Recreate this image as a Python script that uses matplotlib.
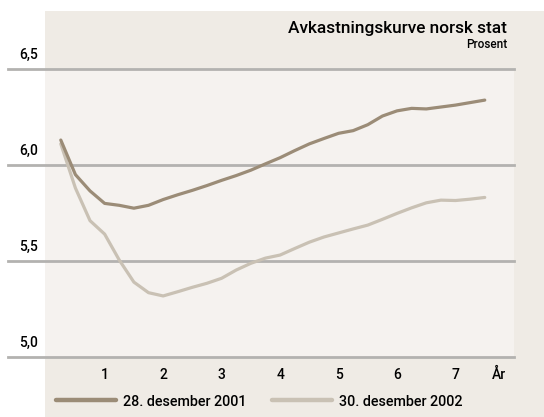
import matplotlib.pyplot as plt
from matplotlib.patches import Rectangle

# løpetid i år
years = [0.25, 0.5, 0.75, 1.0, 1.25, 1.5, 1.75, 2.0, 2.25, 2.5, 2.75, 3.0,
         3.25, 3.5, 3.75, 4.0, 4.25, 4.5, 4.75, 5.0, 5.25, 5.5, 5.75, 6.0,
         6.25, 6.5, 6.75, 7.0, 7.25, 7.5]

# avkastning 28. desember 2001
rate_2001 = [6.13, 5.95, 5.865, 5.80, 5.79, 5.775, 5.79, 5.82, 5.845, 5.868,
             5.893, 5.92, 5.945, 5.973, 6.006, 6.038, 6.075, 6.11, 6.138, 6.165,
             6.179, 6.21, 6.255, 6.282, 6.295, 6.292, 6.302, 6.312, 6.325, 6.338]

# avkastning 30. desember 2002
rate_2002 = [6.11, 5.88, 5.71, 5.64, 5.505, 5.39, 5.335, 5.318, 5.34, 5.363,
             5.384, 5.41, 5.453, 5.488, 5.515, 5.531, 5.565, 5.598, 5.625, 5.646,
             5.667, 5.687, 5.717, 5.748, 5.777, 5.803, 5.817, 5.815, 5.822, 5.831]

yticks = [5.0, 5.5, 6.0, 6.5]
ytick_labels = ['5,0', '5,5', '6,0', '6,5']
xticks = [1, 2, 3, 4, 5, 6, 7]
series_labels = ['28. desember 2001', '30. desember 2002']

W, H = 544, 417
dark = '#9b8c77'
light = '#c9c1b4'
outer_bg = '#efebe5'
inner_bg = '#f5f2ef'
grid_col = '#b3b2b0'
font = 'Roboto'

fig = plt.figure(figsize=(W / 100, H / 100), dpi=100)
fig.patch.set_facecolor('white')
fig.patches.append(Rectangle((45 / W, 0), (W - 45) / W, 1 - 11 / H,
                             transform=fig.transFigure, facecolor=outer_bg,
                             edgecolor='none', zorder=-5))

ax = fig.add_axes([45 / W, 1 - 357 / H, 469 / W, 288 / H])
ax.set_facecolor(inner_bg)
ax.set_xlim(-0.02, 8.0)
ax.set_ylim(5.0, 6.5)
for s in ax.spines.values():
    s.set_visible(False)
ax.set_xticks([])
ax.set_yticks([])

# gridlinjer som går ut til venstre for panelet
x0 = (8 - 45) / 469
for y, lab in zip(yticks, ytick_labels):
    ax.axhline(y, xmin=x0, xmax=1, color=grid_col, lw=2, clip_on=False, zorder=1)
    top_px = 357 - (y - 5.0) / 1.5 * 288 - 10
    fig.text(19 / W, 1 - top_px / H, lab, fontsize=10, fontweight='medium',
             family=font, ha='left', va='baseline')

l1, = ax.plot(years, rate_2001, color=dark, lw=2.3, zorder=3, solid_capstyle='round')
l2, = ax.plot(years, rate_2002, color=light, lw=2.3, zorder=2, solid_capstyle='round')

for xt in xticks:
    ax.text(xt, -0.062, str(xt), transform=ax.get_xaxis_transform(),
            fontsize=10, fontweight='medium', family=font, ha='center', va='center')
ax.text(7.74, -0.062, 'År', transform=ax.get_xaxis_transform(),
        fontsize=10, fontweight='medium', family=font, ha='center', va='center')

fig.text(507 / W, 1 - 32.5 / H, 'Avkastningskurve norsk stat', fontsize=12.4,
         fontweight='medium', family=font, ha='right', va='baseline')
fig.text(507 / W, 1 - 47.5 / H, 'Prosent', fontsize=8.5,
         fontweight='medium', family=font, ha='right', va='baseline')

leg = fig.legend([l1, l2], series_labels, loc='center left',
                 bbox_to_anchor=(56 / W, 1 - 401.5 / H), ncol=2, frameon=False,
                 handlelength=4.2, handletextpad=0.5, columnspacing=1.75,
                 borderpad=0, borderaxespad=0,
                 prop={'family': font, 'size': 10.3, 'weight': 'medium'})
for h in leg.legend_handles:
    h.set_linewidth(3.2)

fig.savefig('out.png', dpi=100)
